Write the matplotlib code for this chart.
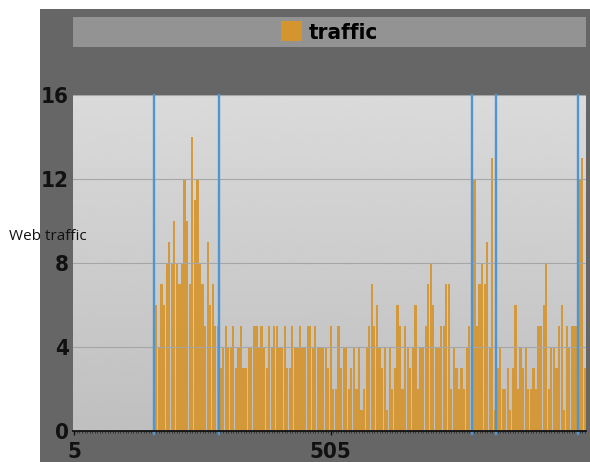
import numpy as np
import matplotlib
matplotlib.use('Agg')
import matplotlib.pyplot as plt
from matplotlib.patches import Rectangle
from matplotlib import font_manager as fm

# ---- data ----
lead_zero_x = list(range(5, 165, 5))
lead_zero_values = [0] * len(lead_zero_x)
traffic_values = [6, 4, 7, 6, 8, 9, 8, 10, 8, 7, 8, 12, 10, 7, 14, 11, 12, 8, 7, 5, 9, 6, 7, 5, 5,
                  3, 4,
                  5, 4, 4, 5, 3, 4, 5, 3, 3, 4, 4, 5, 5, 4, 5, 4, 3, 5, 4, 5, 5, 4, 4, 5, 3, 3, 5, 4,
                  4, 5, 4, 4, 5, 5, 4, 5, 4, 4, 4, 4, 3, 5, 2, 2, 5, 3, 4, 4, 2, 3, 4, 2, 4, 1, 2, 4,
                  5, 7, 5, 6, 4, 3, 4, 1, 4, 2, 3, 6, 5, 2, 5, 4, 3, 4, 6, 2, 4, 4, 5, 7, 8, 6, 4, 4,
                  5, 5, 7, 7, 2, 4, 3, 2, 3, 2, 4, 5,
                  5,
                  12, 5, 7, 8, 7, 9, 4, 13, 1, 3, 4, 2, 2, 3, 1, 3, 6, 2, 4, 3, 4, 2, 2, 3, 2, 5, 5, 6, 8,
                  2, 4, 4, 3, 5, 6, 1, 5, 4, 5, 5, 5, 12, 13, 3]
traffic_x = [165 + 5 * i for i in range(len(traffic_values))]
event_x = [160, 288, 780, 828, 986]
y_ticks = [0, 4, 8, 12, 16]
x_ticks = [5, 505]
series_name = 'traffic'
y_label = 'Web traffic'

all_x = lead_zero_x + traffic_x
all_v = lead_zero_values + traffic_values

# pick a narrow bold font if one is installed
narrow_file = None
for key in ['LiberationSansNarrow-Bold', 'DejaVuSansCondensed-Bold', 'Condensed-Bold', 'Narrow-Bold']:
    for f in fm.fontManager.ttflist:
        if key.lower() in f.fname.lower().replace('_', '-'):
            narrow_file = f.fname
            break
    if narrow_file:
        break


def tick_fp(size):
    if narrow_file:
        return fm.FontProperties(fname=narrow_file, size=size)
    return fm.FontProperties(family='DejaVu Sans', weight='bold', stretch='condensed', size=size)


# ---- figure ----
W, H = 590, 462
fig = plt.figure(figsize=(W / 100, H / 100), dpi=100)
fig.patch.set_facecolor('white')
fig.add_artist(Rectangle((40 / W, 0), 1 - 40 / W, 1 - 9 / H, transform=fig.transFigure,
                         facecolor='#666666', edgecolor='none', zorder=0))
lx0, lx1, ly0, ly1 = 73, 586, 17, 47
fig.add_artist(Rectangle((lx0 / W, 1 - ly1 / H), (lx1 - lx0) / W, (ly1 - ly0) / H,
                         transform=fig.transFigure, facecolor='#939393', edgecolor='none', zorder=1))

ax = fig.add_axes([73 / W, 1 - 431 / H, (586 - 73) / W, (431 - 95) / H])
ax.set_facecolor('#CFCFCF')
grad = np.linspace(0.855, 0.75, 256).reshape(-1, 1)
ax.imshow(grad, extent=[0, 1, 0, 1], transform=ax.transAxes, aspect='auto',
          cmap='gray', vmin=0, vmax=1, zorder=0, interpolation='bicubic')

bars = ax.bar(all_x, all_v, width=4.3, color='#D4952F', alpha=0.92, linewidth=0,
              zorder=2, label=series_name)

for ex in event_x:
    ax.axvline(ex, ymin=-0.008, ymax=1, color='#4F96D0', linewidth=1.7, zorder=4, clip_on=False)

ax.set_xlim(2.5, 1002.5)
ax.set_ylim(0, 16)
ax.set_yticks(y_ticks)
ax.set_xticks(x_ticks)
ax.set_xticks(all_x, minor=True)
ax.yaxis.grid(True, color='#A6A6A6', linewidth=0.8, zorder=3)
ax.set_axisbelow(False)
for s in ['top', 'right', 'left']:
    ax.spines[s].set_visible(False)
ax.spines['bottom'].set_color('#111111')
ax.spines['bottom'].set_linewidth(1.3)
ax.spines['bottom'].set_zorder(5)

ax.tick_params(axis='y', length=0, pad=3, labelcolor='#111111')
ax.tick_params(axis='x', which='major', length=3, width=1, pad=5,
               labelcolor='#111111', color='#111111')
ax.tick_params(axis='x', which='minor', length=1.5, width=0.5, color='#222222')
for lab in ax.get_xticklabels() + ax.get_yticklabels():
    lab.set_fontproperties(tick_fp(16))

fig.text(9 / W, 1 - 237 / H, y_label, ha='left', va='center', fontsize=11,
         family=['Open Sans', 'DejaVu Sans'], color='#111111')

leg = fig.legend(handles=[bars], labels=[series_name], loc='center',
                 bbox_to_anchor=((lx0 + lx1) / 2 / W, 1 - (ly0 + ly1) / 2 / H),
                 frameon=False, handlelength=0.95, handleheight=1.0, handletextpad=0.3,
                 prop=tick_fp(16))
for h in leg.legend_handles:
    h.set_alpha(1)

fig.savefig('out.png', dpi=100, facecolor=fig.get_facecolor())
